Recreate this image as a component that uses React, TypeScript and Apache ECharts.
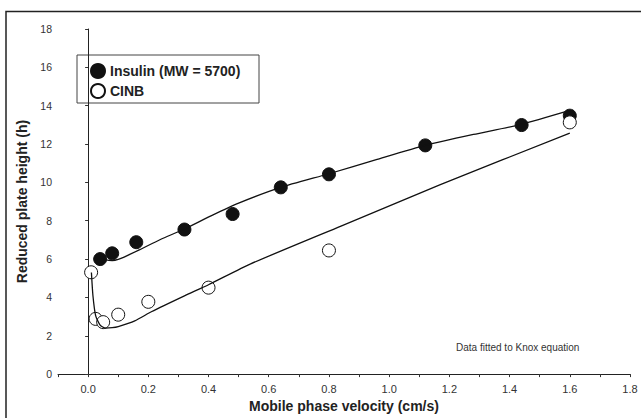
import React, { useEffect, useRef } from "react";
import * as echarts from "echarts";

const insulinX = [0.04, 0.08, 0.16, 0.32, 0.48, 0.64, 0.8, 1.12, 1.44, 1.6];
const insulinY = [6.0, 6.3, 6.88, 7.54, 8.35, 9.74, 10.42, 11.93, 12.99, 13.48];

const cinbX = [0.01, 0.025, 0.05, 0.1, 0.2, 0.4, 0.8, 1.6];
const cinbY = [5.31, 2.88, 2.71, 3.1, 3.77, 4.51, 6.45, 13.13];

const insulinFitX = [0.04, 0.06, 0.08, 0.1, 0.13, 0.17, 0.24, 0.32, 0.41, 0.5, 0.64, 0.8, 0.96, 1.12, 1.28, 1.44, 1.6];
const insulinFitY = [6.12, 5.96, 5.92, 5.98, 6.18, 6.48, 7.02, 7.57, 8.27, 8.92, 9.74, 10.45, 11.2, 11.93, 12.5, 13.03, 13.75];

const cinbFitX = [0.011, 0.016, 0.025, 0.04, 0.058, 0.08, 0.1, 0.155, 0.21, 0.32, 0.4, 0.54, 0.84, 1.17, 1.6];
const cinbFitY = [5.3, 4.1, 3.05, 2.55, 2.4, 2.42, 2.48, 2.78, 3.25, 4.08, 4.66, 5.75, 7.72, 9.88, 12.57];

const xTickLabels = ["0.0", "0.2", "0.4", "0.6", "0.8", "1.0", "1.2", "1.4", "1.6", "1.8"];

const zip = (xs: number[], ys: number[]) => xs.map((x, i) => [x, ys[i]]);

export default function App() {
  const ref = useRef<HTMLDivElement>(null);
  useEffect(() => {
    if (!ref.current) return;
    const chart = echarts.init(ref.current, null, { renderer: "svg" });
    const font = "'Liberation Sans', Arial, Helvetica, sans-serif";
    chart.setOption({
      animation: false,
      backgroundColor: "#fff",
      textStyle: { fontFamily: font },
      grid: { left: 58, right: 11, top: 29, bottom: 39 },
      xAxis: {
        type: "value",
        min: -0.1,
        max: 1.8,
        interval: 0.1,
        name: "Mobile phase velocity (cm/s)",
        nameLocation: "middle",
        nameGap: 23,
        nameTextStyle: { fontSize: 14, fontWeight: "bold", color: "#222", fontFamily: font },
        axisLine: { show: true, onZero: false, lineStyle: { color: "#222", width: 1 } },
        axisTick: { show: true, length: 3, lineStyle: { color: "#333" } },
        splitLine: { show: false },
        axisLabel: {
          fontSize: 11,
          color: "#333",
          margin: 9,
          fontFamily: font,
          formatter: (v: number) => {
            const k = Math.round(v * 10);
            if (k < 0 || k % 2 !== 0) return "";
            return xTickLabels[k / 2] ?? "";
          },
        },
      },
      yAxis: {
        type: "value",
        min: 0,
        max: 18,
        interval: 2,
        name: "Reduced plate height (h)",
        nameLocation: "middle",
        nameGap: 28,
        nameTextStyle: { fontSize: 14, fontWeight: "bold", color: "#222", fontFamily: font },
        axisLine: { show: true, lineStyle: { color: "#222", width: 1 } },
        axisTick: { show: true, length: 3, lineStyle: { color: "#333" } },
        splitLine: { show: false },
        axisLabel: { fontSize: 10.5, color: "#333", margin: 6, fontFamily: font },
      },
      legend: {
        data: ["Insulin (MW = 5700)", "CINB"],
        orient: "vertical",
        left: 90,
        top: 63,
        padding: 0,
        itemGap: 4,
        itemWidth: 14,
        itemHeight: 14,
        icon: "circle",
        textStyle: { fontSize: 14, fontWeight: "bold", color: "#222", fontFamily: font },
      },
      graphic: [
        {
          type: "rect",
          shape: { x: 6, y: 11.5, width: 700, height: 500 },
          style: { fill: "none", stroke: "#222", lineWidth: 1.5 },
          silent: true,
        },
        {
          type: "rect",
          shape: { x: 77, y: 55, width: 182, height: 48 },
          style: { fill: "none", stroke: "#444", lineWidth: 1 },
          silent: true,
        },
        {
          type: "text",
          x: 456,
          y: 347,
          style: {
            text: "Data fitted to Knox equation",
            fontSize: 10,
            fontFamily: font,
            fill: "#333",
            verticalAlign: "middle",
          },
          silent: true,
        },
      ],
      series: [
        {
          name: "Insulin (MW = 5700)",
          type: "scatter",
          data: zip(insulinX, insulinY),
          symbol: "circle",
          symbolSize: 13,
          itemStyle: { color: "#111", borderColor: "#111", borderWidth: 1, opacity: 1 },
          z: 2,
        },
        {
          name: "CINB",
          type: "scatter",
          data: zip(cinbX, cinbY),
          symbol: "circle",
          symbolSize: 13,
          itemStyle: { color: "#fff", borderColor: "#111", borderWidth: 1, opacity: 1 },
          z: 3,
        },
        {
          name: "Insulin fit",
          type: "line",
          data: zip(insulinFitX, insulinFitY),
          showSymbol: false,
          symbol: "none",
          smooth: 0.2,
          lineStyle: { color: "#111", width: 1.3 },
          z: 4,
        },
        {
          name: "CINB fit",
          type: "line",
          data: zip(cinbFitX, cinbFitY),
          showSymbol: false,
          symbol: "none",
          smooth: 0.2,
          lineStyle: { color: "#111", width: 1.3 },
          z: 4,
        },
      ],
    });
    return () => chart.dispose();
  }, []);
  return (
    <div
      ref={ref}
      style={{ position: "fixed", left: 0, top: 0, width: 641, height: 418, background: "#fff" }}
    />
  );
}
